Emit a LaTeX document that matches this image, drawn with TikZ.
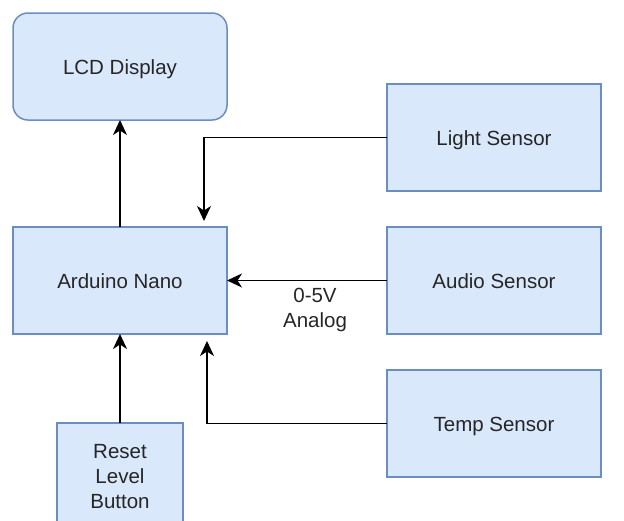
\documentclass[tikz,border=0pt]{standalone}
\usepackage{fontspec}
\setmainfont{Liberation Sans}
\usepackage{xcolor}
\usetikzlibrary{arrows.meta,positioning}
\definecolor{boxfill}{HTML}{DAE8FC}
\definecolor{boxline}{HTML}{6C8EBF}

\begin{document}
\begin{tikzpicture}[
    x=1pt, y=1pt,
    font=\fontsize{20.5}{25}\selectfont,
    block/.style={rectangle, draw=boxline, fill=boxfill, line width=1.5pt, minimum width=214pt, minimum height=107pt, text centered, text=black!85, inner sep=2pt, outer sep=0pt},
    oneline/.style={text height=15.5pt, text depth=0pt},
    arrow/.style={line width=1.7pt, -{Stealth[length=15pt,width=14pt,inset=4.5pt]}}
]
\useasboundingbox (0,0) rectangle (624,-520);

% Controller
\node[block, oneline] (nano) at (120,-280.5) {Arduino Nano};
\node[block, oneline, rounded corners=15pt, above=107pt of nano] (lcd) {LCD Display};

% Sensors
\node[block, oneline, right=160pt of nano] (audio) {Audio Sensor};
\node[block, oneline, above=36pt of audio] (light) {Light Sensor};
\node[block, oneline, below=36pt of audio] (temp) {Temp Sensor};

% Button
\node[block, minimum width=126pt, text width=110pt, below=89pt of nano] (reset) {Reset\\Level\\Button};

% Arrows
\draw[arrow] (nano) -- (lcd);
\draw[arrow, shorten >=6pt] (light.west) -| ([xshift=-23pt]nano.north east);
\draw[arrow] (audio) -- node[below=3pt, xshift=8pt, align=center, text=black!85] (analog) {0-5V\\Analog} (nano);
\draw[arrow, shorten >=7pt] (temp.west) -| ([xshift=-20pt]nano.south east);
\draw[arrow] (reset) -- (nano);

\end{tikzpicture}
\end{document}
